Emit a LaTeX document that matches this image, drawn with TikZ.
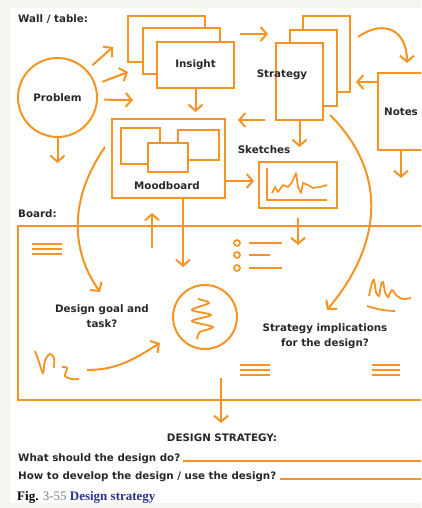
\documentclass[tikz,border=0pt]{standalone}
\usepackage{fontspec}
\setmainfont{DejaVu Sans}
\newfontfamily\capfont{Liberation Serif}
\usepackage{xcolor}
\usepackage{tikz}
\usetikzlibrary{arrows.meta,positioning}
\definecolor{orng}{RGB}{246,148,35}
\definecolor{ink}{RGB}{40,40,40}
\definecolor{paper}{RGB}{244,244,241}
\definecolor{capblue}{RGB}{46,49,146}
\tikzset{ln/.style={draw=orng,line width=2pt}}
\tikzset{txt/.style={text=ink,font=\fontsize{10.3}{15.5}\selectfont\bfseries,inner sep=1pt,align=center}}
\tikzset{box/.style={rectangle,ln,fill=white,inner sep=0pt,txt}}
\tikzset{circ/.style={circle,ln,fill=white,inner sep=0pt,txt}}

\begin{document}
\begin{tikzpicture}[x=1pt,y=1pt,>={Straight Barb[length=6pt,width=14pt]}]
        \useasboundingbox (0,0) rectangle (421,-508);
        \fill[paper] (0,0) rectangle (421,-508);
        \fill[white] (10,-8) rectangle (421,-503);
        \begin{scope}
        \clip (0,0) rectangle (421,-508);

        % wall / table
        \node[txt, anchor=west] (wall) at (17,-19) {Wall / table:};
        \node[circ, minimum size=79pt] (problem) at (57.5,-97.5) {Problem};
        \node[box, minimum width=77pt, minimum height=46pt] (ins3) at (166.5,-39) {};
        \node[box, minimum width=77pt, minimum height=46pt] (ins2) at (181,-51) {};
        \node[box, minimum width=77pt, minimum height=46pt] (ins1) at (195.5,-65) {Insight};
        \node[box, minimum width=47pt, minimum height=76pt] (str3) at (326.5,-54) {};
        \node[box, minimum width=47pt, minimum height=76pt] (str2) at (313.5,-68) {};
        \node[box, minimum width=47pt, minimum height=77pt] (str1) at (299.5,-81.5) {};
        \node[txt] (strtxt) at (282,-75) {Strategy};
        \node[box, minimum width=46pt, minimum height=77pt] (notes) at (401,-111.5) {Notes};
        \node[box, minimum width=113pt, minimum height=79pt] (mood) at (168.5,-158.5) {};
        \node[box, minimum width=39pt, minimum height=36pt] (mood1) at (140.5,-146) {};
        \node[box, minimum width=41pt, minimum height=30pt] (mood2) at (198.5,-145) {};
        \node[box, minimum width=40pt, minimum height=29pt] (mood3) at (168,-157.5) {};
        \node[txt] (moodtxt) at (167,-186) {Moodboard};
        \node[txt] (sktxt) at (264,-150) {Sketches};
        \node[box, minimum width=78pt, minimum height=46pt] (sketch) at (298,-185) {};

        % board
        \node[txt, anchor=west] (boardtxt) at (17,-214) {Board:};
        \node[box, fill=none, minimum width=407pt, minimum height=174pt] (board) at (221.5,-313) {};
        \node[txt] (goal) at (102,-316) {Design goal and\\task?};
        \node[circ, fill=none, minimum size=64pt] (swirl) at (205,-317) {};
        \node[txt] (implic) at (325,-336) {Strategy implications\\for the design?};
        \node[txt] (dstrat) at (222,-438) {DESIGN STRATEGY:};
        \node[txt, anchor=base west, inner sep=0pt] (q1) at (18,-461) {What should the design do?};
        \node[txt, anchor=base west, inner sep=0pt] (q2) at (18,-479) {How to develop the design / use the design?};
        \node[anchor=base west, inner sep=0pt] (caption) at (17,-500) {\capfont\fontsize{13}{15}\selectfont\textbf{Fig.} {\color{gray}3-55} \textcolor{capblue}{\textbf{Design strategy}}};

        % free ends
        \coordinate (pa1) at (113,-47);
        \coordinate (pa2) at (128,-72);
        \coordinate (pa3) at (133,-100);
        \coordinate (probdown) at (57.5,-163);
        \coordinate (insdown) at (195.5,-112);
        \coordinate (i2sa) at (240,-34);
        \coordinate (i2sb) at (268,-34);
        \coordinate (s2na) at (358,-37);
        \coordinate (s2nb) at (407,-63);
        \coordinate (n2s) at (356,-82);
        \coordinate (notesdown) at (401,-178);
        \coordinate (s2ma) at (265,-120);
        \coordinate (s2mb) at (238,-120);
        \coordinate (strdown) at (299.5,-147);
        \coordinate (m2s) at (254,-181);
        \coordinate (mooddown) at (183,-267);
        \coordinate (moodup) at (152,-248);
        \coordinate (skdown) at (298,-245);
        \coordinate (c1a) at (105,-147);
        \coordinate (c1b) at (100,-292);
        \coordinate (c2a) at (330,-115);
        \coordinate (c2b) at (327,-310);
        \coordinate (arra) at (87,-370);
        \coordinate (arrb) at (160,-343);
        \coordinate (outa) at (221,-378);
        \coordinate (outb) at (221,-423);

        \draw[ln,->,shorten <=7pt] (problem.43) -- (pa1);
        \draw[ln,->,shorten <=7pt] (problem.19) -- (pa2);
        \draw[ln,->,shorten <=6pt] (problem.-3) -- (pa3);
        \draw[ln,->] (problem.south) -- (probdown);
        \draw[ln,->] (ins1.south) -- (insdown);
        \draw[ln,->] (i2sa) -- (i2sb);
        \draw[ln,->] (s2na) to[out=35,in=90,looseness=1.5] (s2nb);
        \draw[ln,->] (notes.west |- n2s) -- (n2s);
        \draw[ln,->] (notes.south) -- (notesdown);
        \draw[ln,->] (s2ma) -- (s2mb);
        \draw[ln,->] (str1.south) -- (strdown);
        \draw[ln,->] (mood.east |- m2s) -- (m2s);
        \draw[ln,->] (mood.south -| mooddown) -- (mooddown);
        \draw[ln,->,shorten >=14pt] (moodup) -- (moodup |- mood.south);
        \draw[ln,->,shorten <=9pt] (sketch.south) -- (skdown);
        \draw[ln,->] (c1a) to[out=235,in=125] (c1b);
        \draw[ln,->] (c2a) to[out=-45,in=50,looseness=1.1] (c2b);
        \draw[ln,->] (arra) to[out=0,in=212] (arrb);
        \draw[ln,->] (outa) -- (outb);
        \draw[ln] ([xshift=3pt]q1.base east) -- (q1.base east -| board.east);
        \draw[ln] ([xshift=4pt]q2.base east) -- (q2.base east -| board.east);

        % sketch inside
        \draw[ln,line width=1.7pt] (267,-168) -- (267,-200) -- (327,-200);
        \draw[ln,line width=1.7pt,line join=round] (272,-193) -- (275,-187) -- (278,-192) -- (283,-185) -- (288,-187) -- (292,-182) -- (296,-173) -- (298,-187) -- (301,-193) -- (303,-183) -- (308,-185) -- (313,-188) -- (320,-187) -- (327,-185);

        % marks on the board
        \draw[ln,line width=1.7pt] (32,-244) -- (62,-244);
        \draw[ln,line width=1.7pt] (32,-249) -- (62,-249);
        \draw[ln,line width=1.7pt] (32,-254) -- (62,-254);
        \draw[ln,line width=1.7pt] (240,-365) -- (270,-365);
        \draw[ln,line width=1.7pt] (240,-370) -- (270,-370);
        \draw[ln,line width=1.7pt] (240,-375) -- (270,-375);
        \draw[ln,line width=1.7pt] (372,-365) -- (400,-365);
        \draw[ln,line width=1.7pt] (372,-370) -- (400,-370);
        \draw[ln,line width=1.7pt] (372,-375) -- (400,-375);
        \draw[ln,line width=1.7pt] (237,-243) circle (3);
        \draw[ln,line width=1.7pt] (237,-255) circle (3);
        \draw[ln,line width=1.7pt] (237,-268) circle (3);
        \draw[ln,line width=1.7pt] (249,-243) -- (282,-243);
        \draw[ln,line width=1.7pt] (249,-255) -- (270,-255);
        \draw[ln,line width=1.7pt] (249,-268) -- (282,-268);
        \draw[ln,line width=1.8pt] plot[smooth] coordinates {(198,-299) (209,-303) (192,-310) (211,-315) (192,-321) (213,-327) (200,-332) (197,-339)};
        \draw[ln,line width=1.8pt] plot[smooth] coordinates {(35,-351) (39,-362) (43,-373) (45,-360) (50,-354) (54,-358) (54,-368)};
        \draw[ln,line width=1.8pt] plot[smooth] coordinates {(62,-367) (67,-368) (65,-376) (72,-379) (79,-379)};
        \draw[ln,line width=1.8pt] plot[smooth] coordinates {(369,-296) (372,-283) (374,-280) (376,-292) (379,-296) (381,-285) (383,-282) (385,-292) (388,-297) (392,-290) (397,-296) (403,-299) (411,-298)};
        \draw[ln,line width=1.8pt] (367,-306) to[bend right=8] (395,-311);
        \end{scope}
    \end{tikzpicture}
\end{document}
